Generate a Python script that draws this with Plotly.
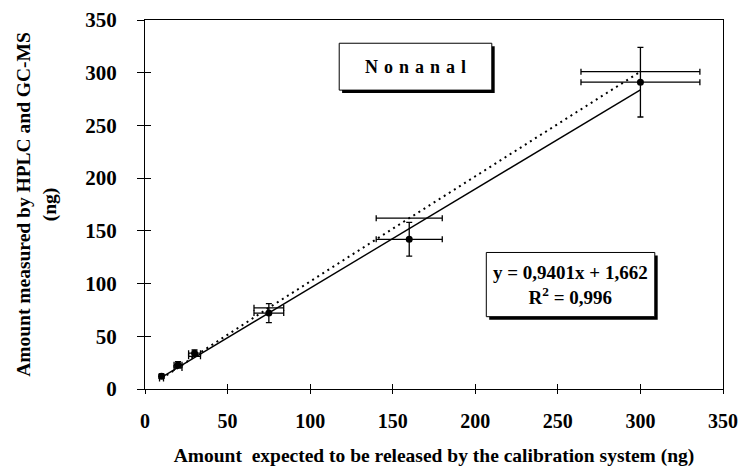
import plotly.graph_objects as go

# ---- data ----
expected = [10, 20, 30, 75, 160, 300]          # x (ng)
measured = [12, 23, 34, 72, 142, 291]           # y measured (ng)
measured_err = [2, 3, 3, 9, 16, 33]             # vertical error
expected_err = [1.2, 2.4, 3.6, 9, 20, 36]       # horizontal error
ideal_y = [10, 20, 31, 77, 162, 301]            # dotted reference series
slope = 0.9401
intercept = 1.662
x_ticks = [0, 50, 100, 150, 200, 250, 300, 350]
y_ticks = [0, 50, 100, 150, 200, 250, 300, 350]

FONT = "Liberation Serif"
trend_x = [min(expected), max(expected)]
trend_y = [slope * v + intercept for v in trend_x]

fig = go.Figure()

# dotted series (expected) with horizontal error bars
fig.add_trace(go.Scatter(
    x=expected, y=ideal_y, mode="lines",
    line=dict(color="black", width=2, dash="2px,4px"),
    error_x=dict(type="data", array=expected_err, color="black", thickness=1.3, width=3),
    showlegend=False, hoverinfo="skip"))

# trend line
fig.add_trace(go.Scatter(
    x=trend_x, y=trend_y, mode="lines",
    line=dict(color="black", width=1.4),
    showlegend=False, hoverinfo="skip"))

# measured points
fig.add_trace(go.Scatter(
    x=expected, y=measured, mode="markers",
    marker=dict(color="black", size=7),
    error_x=dict(type="data", array=expected_err, color="black", thickness=1.3, width=3),
    error_y=dict(type="data", array=measured_err, color="black", thickness=1.3, width=3),
    showlegend=False))

# invisible trace on overlay axes (for crossing ticks)
fig.add_trace(go.Scatter(x=[0], y=[0], xaxis="x2", yaxis="y2", mode="markers",
                         marker=dict(opacity=0), showlegend=False, hoverinfo="skip"))

axis_common = dict(showgrid=False, zeroline=False, linecolor="black", linewidth=1.3,
                   tickcolor="black", tickwidth=1.3, automargin=False)

fig.update_layout(
    width=738, height=467,
    margin=dict(l=145, r=15, t=20, b=78),
    paper_bgcolor="white", plot_bgcolor="white",
    font=dict(family=FONT, color="black"),
    xaxis=dict(range=[0, 350], tickvals=x_ticks, ticks="outside", ticklen=4,
               showline=True, mirror=True, ticklabeloverflow="allow",
               tickfont=dict(family=FONT, size=20, weight="bold"),
               ticklabelstandoff=10,
               title=dict(text="Amount  expected to be released by the calibration system (ng)",
                          font=dict(family=FONT, size=19.5, weight="bold"), standoff=26),
               **axis_common),
    yaxis=dict(range=[0, 350], tickvals=y_ticks, ticks="outside", ticklen=7,
               showline=True, mirror=True, ticklabeloverflow="allow",
               tickfont=dict(family=FONT, size=21, weight="bold"),
               ticklabelstandoff=16,
               title=dict(text="Amount measured by HPLC and GC-MS<br>(ng)",
                          font=dict(family=FONT, size=19.5, weight="bold"), standoff=23),
               **axis_common),
    xaxis2=dict(range=[0, 350], tickvals=x_ticks, ticks="inside", ticklen=5,
                overlaying="x", anchor="y", showticklabels=False, showline=False,
                showgrid=False, zeroline=False, tickcolor="black", tickwidth=1.3),
    yaxis2=dict(range=[0, 350], tickvals=y_ticks, ticks="inside", ticklen=6,
                overlaying="y", anchor="x", showticklabels=False, showline=False,
                showgrid=False, zeroline=False, tickcolor="black", tickwidth=1.3),
)

# Nonanal box with shadow
nx0, nx1, ny0, ny1 = 0.336, 0.600, 0.810, 0.937
sx, sy = 0.005, 0.008
fig.add_shape(type="rect", xref="paper", yref="paper",
              x0=nx0 + sx, x1=nx1 + sx, y0=ny0 - sy, y1=ny1 - sy,
              fillcolor="black", line=dict(width=0), layer="above")
fig.add_shape(type="rect", xref="paper", yref="paper",
              x0=nx0, x1=nx1, y0=ny0, y1=ny1,
              fillcolor="white", line=dict(color="black", width=1), layer="above")
sp = "\u00a0\u200a"
fig.add_annotation(xref="paper", yref="paper", x=(nx0 + nx1) / 2, y=(ny0 + ny1) / 2,
                   xanchor="center", yanchor="middle",
                   text=sp.join("Nonanal"),
                   showarrow=False, font=dict(family=FONT, size=18, weight="bold"))

# Equation box with shadow
ex0, ex1, ey0, ey1 = 0.5905, 0.882, 0.196, 0.370
fig.add_shape(type="rect", xref="paper", yref="paper",
              x0=ex0 + sx, x1=ex1 + sx, y0=ey0 - sy, y1=ey1 - sy,
              fillcolor="black", line=dict(width=0), layer="above")
fig.add_shape(type="rect", xref="paper", yref="paper",
              x0=ex0, x1=ex1, y0=ey0, y1=ey1,
              fillcolor="white", line=dict(color="black", width=1), layer="above")
fig.add_annotation(xref="paper", yref="paper", x=(ex0 + ex1) / 2, y=(ey0 + ey1) / 2,
                   xanchor="center", yanchor="middle",
                   text=f"y = {str(slope).replace('.', ',')}x + {str(intercept).replace('.', ',')}<br>R<sup>2</sup> = 0,996",
                   showarrow=False, align="center",
                   font=dict(family=FONT, size=19, weight="bold"))

fig.write_html("out.html")
